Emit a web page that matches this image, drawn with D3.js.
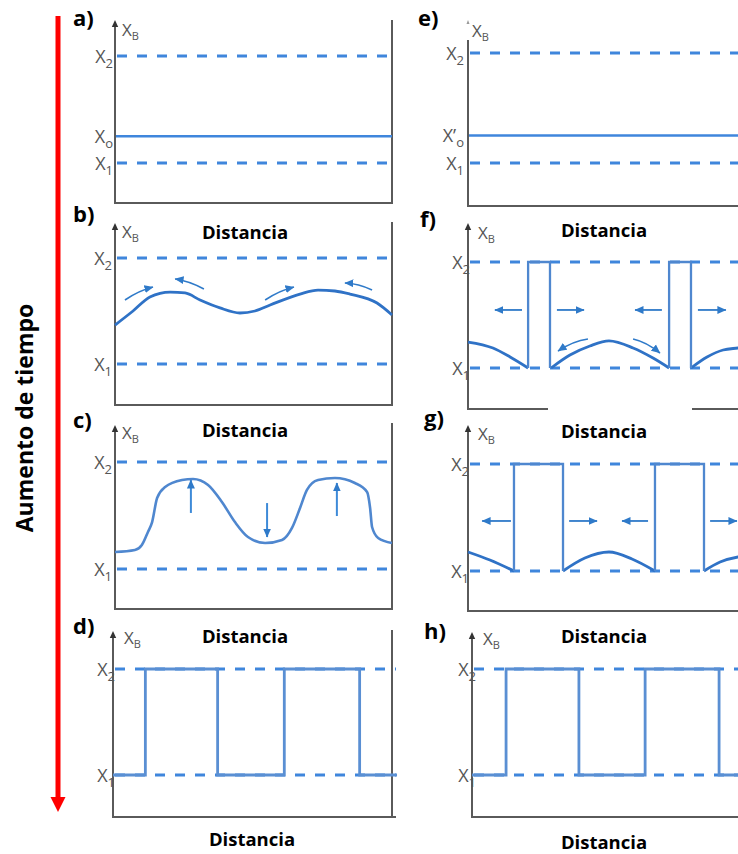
<!DOCTYPE html>
<html><head><meta charset="utf-8">
<script src="https://cdn.jsdelivr.net/npm/d3@7"></script>
<style>body{margin:0;background:#fff}svg{display:block}</style>
</head><body>
<script>
// ================= DATA =================
const panelIds    = ["a","b","c","d","e","f","g","h"];
const panelLabels = ["a)","b)","c)","d)","e)","f)","g)","h)"];
const levelSubs   = ["2","1"];          // X2 , X1
const levelValues = [0.9, 0.1];         // composition of the binodal limits
const initialSubs = {a:["X","o"], e:["X’","o"]};
const initialValue = 0.3;               // X0 / X'0
const axisTitle = "Distancia";
const yTitle = ["X","B"];
const timeTitle = "Aumento de tiempo";

// b) small sinusoidal fluctuation
const profileB = [[0,.394],[6.5,.500],[12.6,.606],[19.9,.643],[25.3,.636],[30.7,.583],[37.9,.523],
  [45.1,.485],[50.5,.500],[56.0,.545],[66.8,.628],[73.3,.658],[79.4,.651],[84.8,.628],[94.6,.560],[100,.470]];
const arrowsB = [[3.6,.583,13.7,.681],[32.1,.666,21.7,.742],[54.2,.583,64.6,.681],[92.8,.658,83.0,.711]];

// c) amplified fluctuation
const profileC = [[0,.227],[7.2,.242],[9.7,.279],[11.9,.377],[13.4,.451],[15.2,.631],[18.1,.713],[24.2,.765],
  [28.2,.773],[33.6,.728],[38.6,.601],[43.3,.451],[48.0,.339],[54.2,.294],[60.3,.317],[63.9,.407],
  [66.8,.556],[69.3,.691],[73.3,.765],[79.4,.780],[86.6,.743],[91.0,.676],[92.1,.556],[92.8,.414],
  [95.0,.332],[100,.294]];
const arrowsC = [[27.4,.519,27.4,.765],[54.9,.593,54.9,.339],[80.1,.496,80.1,.743]];

// d) final square profile
const stepD = [[0,.1],[11.6,.9],[37.5,.1],[61.4,.9],[88.4,.1],[101.8,.1]];

// f) nucleation
const arcsF = [
  [[0,.296],[9.0,.251],[15.2,.183],[21.7,.1]],
  [[30.0,.1],[36.8,.198],[44.0,.266],[50.9,.304],[59.6,.251],[66.8,.175],[72.6,.1]],
  [[80.5,.1],[86.3,.183],[92.1,.236],[97.5,.251],[100,.258]]
];
const slabsF = [[21.7,29.6],[72.6,80.5]];
const arrowsF = [[19.5,.538,9.7,.538],[32.1,.538,41.9,.538],[70.0,.538,60.3,.538],[83.0,.538,93.1,.538]];
const bentArrowsF = [[43.3,.319,32.5,.228],[59.6,.319,69.3,.213]];

// g) growth
const arcsG = [
  [[0,.242],[7.9,.182],[16.6,.1]],
  [[34.3,.1],[42.2,.197],[50.9,.242],[59.2,.190],[67.5,.1]],
  [[85.2,.1],[91.0,.167],[97.5,.205],[100,.212]]
];
const slabsG = [[16.6,34.3],[67.5,85.2]];
const arrowsG = [[15.5,.474,5.1,.474],[36.5,.474,46.6,.474],[65.0,.474,55.6,.474],[87.4,.474,97.1,.474]];

// h) final square profile
const stepH = [[0,.1],[12.3,.9],[38.6,.1],[62.5,.9],[89.2,.1],[100,.1]];

// ================= LAYOUT =================
const W = 738, H = 854;
const FONT = "'Open Sans', 'DejaVu Sans', sans-serif";
const C = {axis:"#5a5a5a", dash:"#3f86dc", curve:"#2f72c6", light:"#4f87cf", step:"#5a8fd3", arrow:"#2f7ac9"};

const layout = {
  a:{left:115,right:392,top:20,bottom:203,y1:163,y2:56,frameTop:20,lblX:73,lblY:26,tickEnd:113,xbX:122,xbY:36},
  b:{left:115,right:392,top:223,bottom:405,y1:364,y2:258,frameTop:222,lblX:73,lblY:222,tickEnd:112,xbX:122,xbY:238},
  c:{left:115,right:392,top:425,bottom:609,y1:569,y2:462,frameTop:423,lblX:73,lblY:428,tickEnd:112,xbX:122,xbY:439},
  d:{left:113,right:392,top:631,bottom:817,y1:775,y2:669,frameTop:630,lblX:73,lblY:634,tickEnd:115,xbX:124,xbY:644},
  e:{left:468,right:745,top:40,bottom:206,y1:163,y2:53,noArrow:true,lblX:418,lblY:26,tickEnd:464,xbX:472,xbY:37},
  f:{left:468,right:745,top:223,bottom:409,y1:368,y2:262,lblX:420,lblY:227,tickEnd:470,xbX:478,xbY:239,
     bottomSegs:[[468,548],[692,738]]},
  g:{left:468,right:745,top:425,bottom:611,y1:571,y2:464,lblX:424,lblY:426,tickEnd:469,xbX:478,xbY:440},
  h:{left:472,right:749,top:632,bottom:817,y1:775,y2:669,lblX:424,lblY:639,tickEnd:476,xbX:483,xbY:645}
};
const titlePos = [[245,239],[604,237],[245,437],[604,438],[245,643],[252,846],[604,643],[604,849]];

const svg = d3.select("body").append("svg").attr("width",W).attr("height",H)
  .style("font-family",FONT);

const defs = svg.append("defs");
defs.append("marker").attr("id","ah").attr("markerUnits","userSpaceOnUse")
  .attr("markerWidth",10).attr("markerHeight",9).attr("refX",8.5).attr("refY",4.5).attr("orient","auto")
  .append("path").attr("d","M0,0.5 L9,4.5 L0,8.5 Z").attr("fill",C.arrow);

// time arrow + title
svg.append("line").attr("x1",58).attr("x2",58).attr("y1",16).attr("y2",800)
  .attr("stroke","#ff0000").attr("stroke-width",5);
svg.append("path").attr("d","M50.5,797 L65.5,797 L58,812 Z").attr("fill","#ff0000");
svg.append("text").attr("transform","translate(33,418) rotate(-90)").attr("text-anchor","middle")
  .attr("font-size",23).attr("font-weight",700).attr("fill","#000").text(timeTitle);

// axis titles
titlePos.forEach(([tx,ty]) => svg.append("text").attr("x",tx).attr("y",ty).attr("text-anchor","middle")
  .attr("font-size",18.5).attr("font-weight",700).attr("fill","#000").text(axisTitle));

const drawArrow = (g, x, y, a, width, color, bend) => {
  const x0=x(a[0]), y0=y(a[1]), x1=x(a[2]), y1=y(a[3]);
  let d;
  if (bend) { const mx=(x0+x1)/2, my=(y0+y1)/2 - bend; d=`M${x0},${y0} Q${mx},${my} ${x1},${y1}`; }
  else d=`M${x0},${y0} L${x1},${y1}`;
  g.append("path").attr("d",d).attr("fill","none").attr("stroke",color).attr("stroke-width",width)
    .attr("marker-end","url(#ah)");
};

panelIds.forEach((id,i) => {
  const p = layout[id];
  const g = svg.append("g");
  const x = d3.scaleLinear([0,100],[p.left,p.right]);
  const y = d3.scaleLinear([0.1,0.9],[p.y1,p.y2]);
  const line = d3.line().x(d=>x(d[0])).y(d=>y(d[1]));
  const isLeft = p.right < 400;
  const xMax = isLeft ? p.right + (id==="d"?4:0) : W;

  // dashed binodal levels
  levelValues.forEach(v => g.append("line").attr("x1",p.left+2).attr("x2",xMax)
    .attr("y1",y(v)).attr("y2",y(v)).attr("stroke",C.dash).attr("stroke-width",2.8)
    .attr("stroke-dasharray","10,10"));

  // frame / axes
  g.append("line").attr("x1",p.left).attr("x2",p.left).attr("y1",p.bottom+1).attr("y2",p.top+(p.noArrow?0:6))
    .attr("stroke",C.axis).attr("stroke-width",2);
  if (!p.noArrow) g.append("path").attr("d",`M${p.left-3.2},${p.top+7} L${p.left+3.2},${p.top+7} L${p.left},${p.top} Z`).attr("fill","#333");
  else g.append("path").attr("d",`M${p.left-1.5},${p.top-16} L${p.left+1.5},${p.top-16} L${p.left},${p.top-20} Z`).attr("fill","#999");
  (p.bottomSegs || [[p.left-1, xMax]]).forEach(s => g.append("line").attr("x1",s[0]).attr("x2",s[1])
    .attr("y1",p.bottom).attr("y2",p.bottom).attr("stroke",C.axis).attr("stroke-width",2));
  if (isLeft) g.append("line").attr("x1",p.right).attr("x2",p.right).attr("y1",p.frameTop).attr("y2",p.bottom+1)
    .attr("stroke",C.axis).attr("stroke-width",2);

  if (initialSubs[id]) {
    g.append("line").attr("x1",p.left+1).attr("x2",xMax).attr("y1",y(initialValue)).attr("y2",y(initialValue))
      .attr("stroke",C.dash).attr("stroke-width",2.6);
  }
  if (id==="b") {
    g.append("path").attr("d",line.curve(d3.curveMonotoneX)(profileB)).attr("fill","none")
      .attr("stroke",C.curve).attr("stroke-width",2.8);
    arrowsB.forEach(a => drawArrow(g,x,y,a,1.6,C.arrow,3));
  }
  if (id==="c") {
    g.append("path").attr("d",line.curve(d3.curveMonotoneX)(profileC)).attr("fill","none")
      .attr("stroke",C.light).attr("stroke-width",2.6);
    arrowsC.forEach(a => drawArrow(g,x,y,a,2,"#3d8ad8",0));
  }
  if (id==="d" || id==="h") {
    g.append("path").attr("d",line.curve(d3.curveStepAfter)(id==="d"?stepD:stepH)).attr("fill","none")
      .attr("stroke",C.step).attr("stroke-width",2.8);
  }
  if (id==="f" || id==="g") {
    const arcs = id==="f"?arcsF:arcsG, slabs = id==="f"?slabsF:slabsG, arr = id==="f"?arrowsF:arrowsG;
    arcs.forEach(a => g.append("path").attr("d",line.curve(d3.curveMonotoneX)(a)).attr("fill","none")
      .attr("stroke",C.curve).attr("stroke-width",2.8));
    slabs.forEach(s => g.append("path")
      .attr("d",line.curve(d3.curveLinear)([[s[0],.1],[s[0],.9],[s[1],.9],[s[1],.1]]))
      .attr("fill","none").attr("stroke",C.light).attr("stroke-width",2.3));
    arr.forEach(a => drawArrow(g,x,y,a,1.8,C.arrow,0));
    if (id==="f") bentArrowsF.forEach(a => drawArrow(g,x,y,a,1.6,C.arrow,4));
  }

  // panel letter
  g.append("text").attr("x",p.lblX).attr("y",p.lblY).attr("font-size",22).attr("font-weight",700)
    .attr("fill","#000").text(panelLabels[i]);
  // y title X_B
  const t = g.append("text").attr("x",p.xbX).attr("y",p.xbY).attr("fill","#555");
  t.append("tspan").attr("font-size",17).text(yTitle[0]);
  t.append("tspan").attr("font-size",11).attr("dy",4).text(yTitle[1]);

  // level tick labels (drawn on top)
  const tick = (v, main, sub) => {
    const tt = g.append("text").attr("x",p.tickEnd).attr("y",y(v)+6.5).attr("text-anchor","end").attr("fill","#555");
    tt.append("tspan").attr("font-size",18).text(main);
    tt.append("tspan").attr("font-size",13).attr("dy",5).text(sub);
  };
  levelValues.forEach((v,k) => tick(v,"X",levelSubs[k]));
  if (initialSubs[id]) tick(initialValue, initialSubs[id][0], initialSubs[id][1]);
});
</script>
</body></html>
